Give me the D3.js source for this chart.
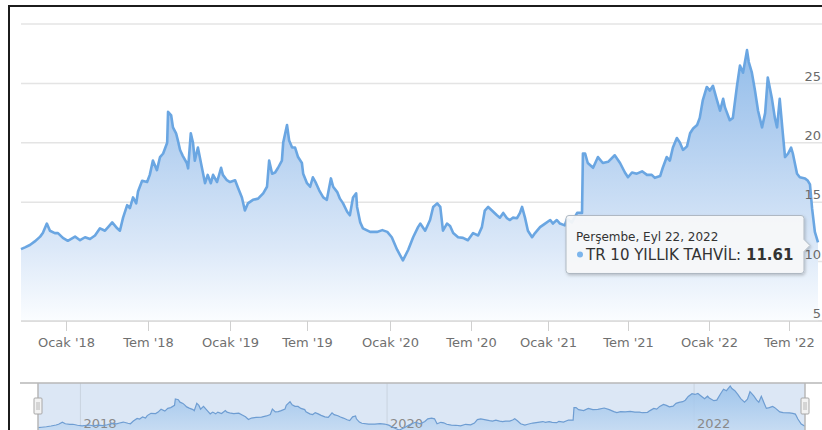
<!DOCTYPE html>
<html lang="tr">
<head>
<meta charset="utf-8">
<script src="https://cdn.jsdelivr.net/npm/d3@7"></script>
<style>
  html, body { margin: 0; padding: 0; background: #ffffff; }
  svg { display: block; font-family: "DejaVu Sans", Verdana, sans-serif; }
</style>
</head>
<body>
<svg id="chart" width="822" height="430"></svg>
<script>
// TR 10 yıllık tahvil faizi, günlük kapanışlardan seçilmiş gözlemler
const obsDates = [
  "2017-09-22","2017-10-01","2017-10-12","2017-10-23","2017-11-04","2017-11-10","2017-11-19","2017-11-26","2017-12-07","2017-12-14","2017-12-25",
  "2018-01-05","2018-01-21","2018-02-01","2018-02-12","2018-02-23","2018-03-06","2018-03-17","2018-03-28","2018-04-04","2018-04-13","2018-04-24","2018-04-30",
  "2018-05-07","2018-05-16","2018-05-22","2018-05-29","2018-06-05","2018-06-09","2018-06-18","2018-06-29",
  "2018-07-05","2018-07-12","2018-07-21","2018-07-28","2018-08-04","2018-08-13","2018-08-15","2018-08-22","2018-08-26","2018-09-02","2018-09-06","2018-09-11",
  "2018-09-17","2018-09-26","2018-09-29","2018-10-05","2018-10-10","2018-10-14","2018-10-21","2018-10-30","2018-11-06","2018-11-12","2018-11-19","2018-11-24",
  "2018-12-03","2018-12-12","2018-12-16","2018-12-25",
  "2019-01-01","2019-01-13","2019-01-20","2019-01-29","2019-02-05","2019-02-12","2019-02-24","2019-03-08","2019-03-20","2019-03-29","2019-04-03","2019-04-10",
  "2019-04-17","2019-04-24","2019-05-03","2019-05-06","2019-05-15","2019-05-20","2019-05-27","2019-06-03","2019-06-10","2019-06-19","2019-06-22",
  "2019-07-01","2019-07-08","2019-07-14","2019-07-21","2019-07-28","2019-08-06","2019-08-14","2019-08-23","2019-08-28","2019-09-06","2019-09-12","2019-09-19",
  "2019-09-28","2019-10-04","2019-10-11","2019-10-18","2019-10-20","2019-10-27","2019-11-02","2019-11-18","2019-12-03","2019-12-15","2019-12-26",
  "2020-01-05","2020-01-17","2020-01-30","2020-02-11","2020-02-22","2020-03-04","2020-03-09","2020-03-20","2020-03-31","2020-04-07","2020-04-16","2020-04-23",
  "2020-04-29","2020-05-08","2020-05-15","2020-05-22","2020-06-02","2020-06-13","2020-06-24",
  "2020-07-06","2020-07-18","2020-07-27","2020-08-03","2020-08-11","2020-08-20","2020-09-01","2020-09-08","2020-09-16","2020-09-25","2020-10-02","2020-10-09",
  "2020-10-19","2020-10-26","2020-10-31","2020-11-07","2020-11-14","2020-11-24","2020-12-01","2020-12-13","2020-12-25",
  "2021-01-06","2021-01-12","2021-01-21","2021-01-28","2021-02-08","2021-02-13","2021-02-24","2021-03-08","2021-03-19","2021-03-21","2021-03-26","2021-04-01",
  "2021-04-13","2021-04-24","2021-05-05","2021-05-17","2021-06-01","2021-06-13","2021-06-24",
  "2021-07-01","2021-07-10","2021-07-21","2021-08-02","2021-08-13","2021-08-24","2021-08-31","2021-09-12","2021-09-18","2021-09-27","2021-10-04","2021-10-11",
  "2021-10-20","2021-10-27","2021-11-03","2021-11-12","2021-11-19","2021-11-26","2021-12-05","2021-12-11","2021-12-18","2021-12-27",
  "2022-01-03","2022-01-10","2022-01-19","2022-01-26","2022-02-02","2022-02-06","2022-02-17","2022-02-24","2022-03-05","2022-03-12","2022-03-19","2022-03-28",
  "2022-04-01","2022-04-08","2022-04-15","2022-04-22","2022-05-01","2022-05-08","2022-05-14","2022-05-23","2022-05-30","2022-06-04","2022-06-10","2022-06-17",
  "2022-06-22","2022-06-29",
  "2022-07-07","2022-07-12","2022-07-24","2022-08-01","2022-08-16","2022-08-24","2022-08-30","2022-09-05","2022-09-13","2022-09-22"
];
const yieldValues = [
  11.05,11.2,11.4,11.7,12.1,12.4,13.2,12.6,12.4,12.4,12.0,
  11.75,12.1,11.8,12.05,11.9,12.2,12.8,12.6,12.9,13.3,12.8,12.6,
  13.7,14.75,14.5,15.4,14.9,15.9,16.8,16.7,
  17.3,18.5,17.7,18.8,19.1,20.0,22.6,22.3,21.3,20.8,20.2,19.4,
  18.9,18.3,17.85,20.8,20.0,18.5,19.6,17.9,16.6,17.3,16.6,17.3,
  16.7,17.9,17.3,16.85,
  16.7,16.85,16.2,15.4,14.3,14.9,15.2,15.3,15.75,16.3,18.5,17.4,
  17.5,17.9,18.5,20.0,21.5,20.2,19.6,19.6,18.8,18.3,17.4,
  16.6,16.3,17.1,16.6,16.0,15.4,15.2,17.0,16.3,15.85,15.3,14.9,
  14.2,13.9,15.4,15.75,14.6,13.3,12.8,12.5,12.5,12.65,12.5,
  12.05,11.0,10.1,11.0,12.05,12.9,13.2,12.6,13.5,14.6,14.9,14.6,
  12.6,13.2,13.0,12.4,12.05,12.0,11.8,
  12.4,12.2,12.9,14.3,14.6,14.3,13.9,13.7,14.1,13.65,13.5,13.7,
  13.65,14.1,14.6,13.7,12.6,12.05,12.4,12.9,13.2,
  13.5,13.2,13.5,13.2,13.05,13.6,13.3,14.1,14.1,19.1,19.1,18.3,
  17.9,18.8,18.3,18.4,18.95,18.3,17.5,
  17.1,17.5,17.4,17.6,17.3,17.3,17.05,17.2,17.9,18.8,18.5,19.6,
  20.4,20.0,19.4,19.7,20.8,21.2,21.5,22.1,23.6,24.7,
  24.4,24.8,23.6,22.7,23.7,23.0,21.9,22.1,24.7,26.5,25.9,27.8,
  26.8,25.9,24.4,22.7,21.3,22.5,25.5,23.8,22.1,21.3,23.7,20.8,
  18.8,19.1,
  19.6,19.1,17.4,17.1,17.0,16.8,16.5,14.5,12.5,11.61
];

// Eksen etiketleri
const xTickDates = ["2018-01-01","2018-07-01","2019-01-01","2019-07-01","2020-01-01","2020-07-01","2021-01-01","2021-07-01","2022-01-01","2022-07-01"];
const xTickLabels = ["Ocak '18","Tem '18","Ocak '19","Tem '19","Ocak '20","Tem '20","Ocak '21","Tem '21","Ocak '22","Tem '22"];
const yTickValues = [5, 10, 15, 20, 25, 30];
const yTickLabels = ["5", "10", "15", "20", "25", ""];
const navTickDates = ["2018-01-01","2020-01-01","2022-01-01"];
const navTickLabels = ["2018","2020","2022"];

const seriesName = "TR 10 YILLIK TAHVİL";
const tooltipHeader = "Perşembe, Eyl 22, 2022";

const parse = d3.timeParse("%Y-%m-%d");
const data = obsDates.map((d, i) => ({ date: parse(d), value: yieldValues[i] }));
const last = data[data.length - 1];

const svg = d3.select("#chart");
const W = 822, H = 430;

// Main plot geometry
const plot = { left: 21, right: 822, top: 24, bottom: 321 };

// Trading-day (ordinal-like) time axis: piecewise linear between calendar anchors
const anchorDates = ["2017-09-22","2018-01-01","2018-07-01","2019-01-01","2019-07-01","2020-01-01",
                     "2020-07-01","2021-01-01","2021-07-01","2022-01-01","2022-07-01","2022-09-22"].map(parse);
const anchorPx = [21, 66, 148, 230, 307, 390, 471, 548, 628, 709, 789, 818];
const x = d3.scaleTime().domain(anchorDates).range(anchorPx);
const y = d3.scaleLinear().domain([5, 30]).range([plot.bottom, plot.top]);

const defs = svg.append("defs");
const grad = defs.append("linearGradient")
  .attr("id", "areaFill").attr("gradientUnits", "userSpaceOnUse")
  .attr("x1", 0).attr("y1", plot.top).attr("x2", 0).attr("y2", plot.bottom);
grad.append("stop").attr("offset", "0%").attr("stop-color", "#8ab8e8");
grad.append("stop").attr("offset", "35%").attr("stop-color", "#afcdef");
grad.append("stop").attr("offset", "75%").attr("stop-color", "#dbe8f8");
grad.append("stop").attr("offset", "100%").attr("stop-color", "#fbfdff");

const shadow = defs.append("filter").attr("id", "tipShadow")
  .attr("x", "-10%").attr("y", "-20%").attr("width", "130%").attr("height", "160%");
shadow.append("feDropShadow").attr("dx", 1).attr("dy", 1.5).attr("stdDeviation", 1.5)
  .attr("flood-color", "#000").attr("flood-opacity", 0.22);

// Horizontal grid lines
svg.append("g").selectAll("line").data(yTickValues).join("line")
  .attr("x1", plot.left).attr("x2", plot.right)
  .attr("y1", d => y(d)).attr("y2", d => y(d))
  .attr("stroke", "#e4e4e4").attr("stroke-width", 1.5);

// Area + line
const area = d3.area().x(d => x(d.date)).y0(plot.bottom).y1(d => y(d.value));
const line = d3.line().x(d => x(d.date)).y(d => y(d.value));

svg.append("path").datum(data).attr("d", area).attr("fill", "url(#areaFill)");
svg.append("path").datum(data).attr("d", line)
  .attr("fill", "none").attr("stroke", "#6aa6e2").attr("stroke-width", 2.6)
  .attr("stroke-linejoin", "round");

// X axis
const xAxis = d3.axisBottom(x)
  .tickValues(xTickDates.map(parse))
  .tickFormat((d, i) => xTickLabels[i])
  .tickSize(10).tickPadding(7);
const gx = svg.append("g").attr("transform", `translate(0,${plot.bottom})`).call(xAxis);
gx.select(".domain").attr("stroke", "#d8d8d8").attr("stroke-width", 1.5)
  .attr("d", `M${plot.left},0H${plot.right}`);
gx.selectAll(".tick line").attr("stroke", "#d0d0d0");
gx.selectAll(".tick text").attr("fill", "#707070")
  .attr("font-size", 13).attr("font-family", "DejaVu Sans, Verdana, sans-serif");

// Y axis labels (right side, inside the plot)
const yAxis = d3.axisRight(y).tickValues(yTickValues)
  .tickFormat((d, i) => yTickLabels[i]).tickSize(0);
const gy = svg.append("g").attr("transform", `translate(821,0)`).call(yAxis);
gy.select(".domain").remove();
gy.selectAll(".tick text").attr("text-anchor", "end").attr("x", 0).attr("dy", "-0.25em")
  .attr("fill", "#6a6a6a").attr("font-size", 13)
  .attr("font-family", "DejaVu Sans, Verdana, sans-serif");

// Navigator
const nav = { left: 38, right: 805, top: 383, bottom: 432 };
const xN = d3.scaleTime().domain([data[0].date, last.date]).range([nav.left, nav.right]);
const yN = d3.scaleLinear().domain(d3.extent(yieldValues)).range([430, 386]);

const navGrad = defs.append("linearGradient")
  .attr("id", "navFill").attr("gradientUnits", "userSpaceOnUse")
  .attr("x1", 0).attr("y1", 386).attr("x2", 0).attr("y2", 432);
navGrad.append("stop").attr("offset", "0%").attr("stop-color", "#95bfea");
navGrad.append("stop").attr("offset", "100%").attr("stop-color", "#c4daf2");

svg.append("rect").attr("x", nav.left).attr("y", nav.top)
  .attr("width", nav.right - nav.left).attr("height", nav.bottom - nav.top)
  .attr("fill", "#dce7f5");

const gNav = svg.append("g");
gNav.selectAll("line.navgrid").data(navTickDates.map(parse)).join("line")
  .attr("class", "navgrid")
  .attr("x1", d => xN(d)).attr("x2", d => xN(d))
  .attr("y1", nav.top).attr("y2", nav.bottom)
  .attr("stroke", "#c9d3df").attr("stroke-width", 1);

const navArea = d3.area().x(d => xN(d.date)).y0(nav.bottom).y1(d => yN(d.value));
const navLine = d3.line().x(d => xN(d.date)).y(d => yN(d.value));
gNav.append("path").datum(data).attr("d", navArea).attr("fill", "url(#navFill)").attr("opacity", 0.85);

gNav.selectAll("text.navlabel").data(navTickDates.map(parse)).join("text")
  .attr("class", "navlabel")
  .attr("x", d => xN(d) + 3).attr("y", 428)
  .attr("fill", "#8a8a8a").attr("font-size", 13)
  .text((d, i) => navTickLabels[i]);

gNav.append("path").datum(data).attr("d", navLine)
  .attr("fill", "none").attr("stroke", "#6e9dd2").attr("stroke-width", 1.2);

// Navigator outline and handles
svg.append("path")
  .attr("d", `M20,${nav.top}H822M${nav.left},${nav.top}V${H}M${nav.right},${nav.top}V${H}`)
  .attr("fill", "none").attr("stroke", "#b8b8b8").attr("stroke-width", 1.5);

[nav.left, nav.right].forEach(hx => {
  const g = svg.append("g").attr("transform", `translate(${hx},406)`);
  g.append("rect").attr("x", -4).attr("y", -8).attr("width", 8).attr("height", 16)
    .attr("rx", 1).attr("fill", "#f2f2f2").attr("stroke", "#a8a8a8");
  g.append("path").attr("d", "M-1,-4V4M1,-4V4").attr("stroke", "#a8a8a8").attr("stroke-width", 0.8);
});

// Tooltip anchored to the last observation
const px = x(last.date), py = y(last.value);
const tip = { w: 238, h: 58 };
const tx = px - 14 - tip.w, ty = py - 27;
const tipG = svg.append("g").attr("transform", `translate(${tx},${ty})`);
const r = 3, w = tip.w, h = tip.h, ay = 30;
tipG.append("path")
  .attr("d", `M${r},0H${w - r}Q${w},0 ${w},${r}V${ay - 6}L${w + 6},${ay}L${w},${ay + 6}V${h - r}Q${w},${h} ${w - r},${h}H${r}Q0,${h} 0,${h - r}V${r}Q0,0 ${r},0Z`)
  .attr("fill", "rgba(249,250,251,0.92)").attr("stroke", "#aeb8c2").attr("stroke-width", 1)
  .attr("filter", "url(#tipShadow)");
tipG.append("text").attr("x", 10).attr("y", 26)
  .attr("font-size", 12).attr("fill", "#333").text(tooltipHeader);
tipG.append("circle").attr("cx", 14).attr("cy", 39).attr("r", 3).attr("fill", "#7cb5ec");
const body = tipG.append("text").attr("x", 20).attr("y", 44.5).attr("font-size", 15).attr("fill", "#333");
body.append("tspan").text(seriesName + ": ");
body.append("tspan").attr("font-weight", "bold").text(d3.format(".2f")(last.value));

// Outer frame
svg.append("path").attr("d", `M9,${H}V6H${W}`)
  .attr("fill", "none").attr("stroke", "#1c1c1c").attr("stroke-width", 2);
</script>
</body>
</html>
